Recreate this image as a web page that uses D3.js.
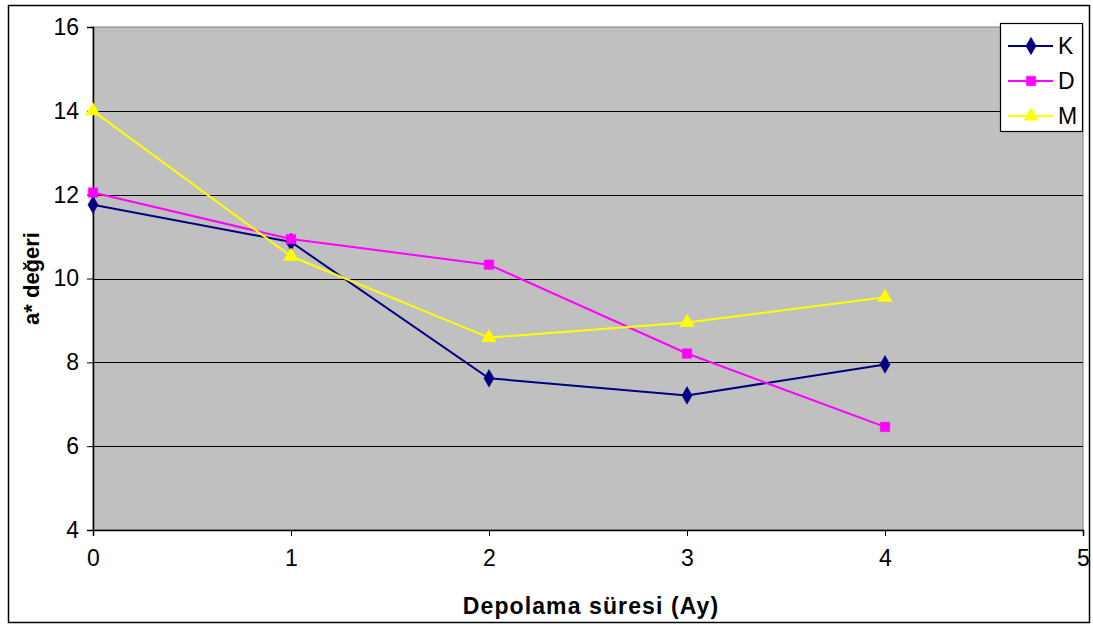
<!DOCTYPE html>
<html>
<head>
<meta charset="utf-8">
<script src="https://cdn.jsdelivr.net/npm/d3@7"></script>
<style>
  html, body { margin: 0; padding: 0; background: #fff; }
  svg { display: block; font-family: "Liberation Sans", Arial, sans-serif; }
</style>
</head>
<body>
<svg id="chart" width="1093" height="628"></svg>
<script>
// Storage time (months)
const months = [0, 1, 2, 3, 4];
// a* values per sample group
const seriesK = [11.76, 10.87, 7.62, 7.21, 7.95];
const seriesD = [12.05, 10.94, 10.33, 8.21, 6.46];
const seriesM = [14.0, 10.53, 8.59, 8.95, 9.55];
const seriesNames = ["K", "D", "M"];
const xTicks = [0, 1, 2, 3, 4, 5];
const yTicks = [4, 6, 8, 10, 12, 14, 16];

const series = [
  { name: seriesNames[0], values: seriesK, color: "#000080", symbol: d3.symbolDiamond, size: 90 },
  { name: seriesNames[1], values: seriesD, color: "#FF00FF", symbol: d3.symbolSquare, size: 90 },
  { name: seriesNames[2], values: seriesM, color: "#FFFF00", symbol: d3.symbolTriangle, size: 90 }
];

const svg = d3.select("#chart");
const plot = { left: 93, right: 1083, top: 27, bottom: 530 };
const FONT = "'Liberation Sans', Arial, sans-serif";

// Outer chart border
svg.append("rect")
  .attr("x", 8.5).attr("y", 5.5)
  .attr("width", 1081).attr("height", 617)
  .attr("fill", "#fff").attr("stroke", "#000").attr("stroke-width", 1.5);

const x = d3.scaleLinear().domain([0, 5]).range([plot.left, plot.right]);
const y = d3.scaleLinear().domain([4, 16]).range([plot.bottom, plot.top]);

// Plot area background
svg.append("rect")
  .attr("x", plot.left).attr("y", plot.top)
  .attr("width", plot.right - plot.left).attr("height", plot.bottom - plot.top)
  .attr("fill", "#C0C0C0").attr("stroke", "#808080").attr("stroke-width", 1);

// Horizontal gridlines
svg.append("g")
  .selectAll("line")
  .data(yTicks.filter(v => v > 4 && v < 16))
  .join("line")
  .attr("x1", plot.left).attr("x2", plot.right)
  .attr("y1", d => Math.round(y(d)) + 0.5).attr("y2", d => Math.round(y(d)) + 0.5)
  .attr("stroke", "#000").attr("stroke-width", 1.2);

// Y axis
const yAxis = svg.append("g")
  .attr("transform", `translate(${plot.left},0)`)
  .call(d3.axisLeft(y).tickValues(yTicks).tickSize(6).tickPadding(8).tickFormat(d3.format("d")));
yAxis.select(".domain").attr("stroke", "#000").attr("stroke-width", 1.5);
yAxis.selectAll(".tick line").attr("stroke", "#000");
yAxis.selectAll("text").attr("font-size", 23).attr("fill", "#000").attr("font-family", FONT);

// X axis
const xAxis = svg.append("g")
  .attr("transform", `translate(0,${plot.bottom})`)
  .call(d3.axisBottom(x).tickValues(xTicks).tickSize(6).tickPadding(14).tickFormat(d3.format("d")));
xAxis.select(".domain").attr("stroke", "#000").attr("stroke-width", 1.5);
xAxis.selectAll(".tick line").attr("stroke", "#000");
xAxis.selectAll("text").attr("font-size", 23).attr("fill", "#000").attr("font-family", FONT);

// Axis titles
svg.append("text")
  .attr("x", 591).attr("y", 614)
  .attr("text-anchor", "middle")
  .attr("font-size", 23).attr("font-weight", "bold")
  .attr("letter-spacing", 1.1)
  .text("Depolama süresi (Ay)");

svg.append("text")
  .attr("transform", `translate(39,${(plot.top + plot.bottom) / 2}) rotate(-90)`)
  .attr("text-anchor", "middle")
  .attr("font-size", 22).attr("font-weight", "bold")
  .text("a* değeri");

// Series lines and markers
const line = d3.line().x((d, i) => x(months[i])).y(d => y(d));

series.forEach(s => {
  const g = svg.append("g");
  g.append("path")
    .datum(s.values)
    .attr("d", line)
    .attr("fill", "none")
    .attr("stroke", s.color)
    .attr("stroke-width", 2);
  g.selectAll("path.mark")
    .data(s.values)
    .join("path")
    .attr("class", "mark")
    .attr("d", d3.symbol().type(s.symbol).size(s.size))
    .attr("transform", (d, i) => `translate(${x(months[i])},${y(d)})`)
    .attr("fill", s.color)
    .attr("stroke", s.color)
    .attr("stroke-width", 0.5);
});

// Legend
const legend = svg.append("g");
legend.append("rect")
  .attr("x", 1000.5).attr("y", 23.5)
  .attr("width", 82).attr("height", 108)
  .attr("fill", "#fff").attr("stroke", "#000").attr("stroke-width", 1.2);

const legendY = [46, 81, 116];
series.forEach((s, i) => {
  const ly = legendY[i];
  legend.append("line")
    .attr("x1", 1008).attr("x2", 1053)
    .attr("y1", ly).attr("y2", ly)
    .attr("stroke", s.color).attr("stroke-width", 2);
  legend.append("path")
    .attr("d", d3.symbol().type(s.symbol).size(s.size)())
    .attr("transform", `translate(1031,${ly})`)
    .attr("fill", s.color).attr("stroke", s.color).attr("stroke-width", 0.5);
  legend.append("text")
    .attr("x", 1058).attr("y", ly + 8)
    .attr("font-size", 23)
    .text(s.name);
});
</script>
</body>
</html>
